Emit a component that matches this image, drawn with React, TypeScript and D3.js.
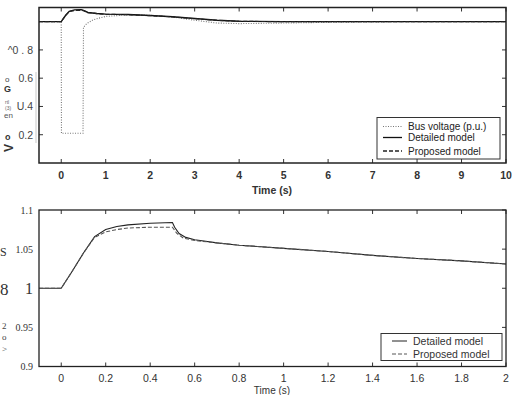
import { scaleLinear, line } from 'd3';

// Top panel: bus voltage and terminal voltage, 0-10 s
const topTicksX = [0, 1, 2, 3, 4, 5, 6, 7, 8, 9, 10];
const topTicksY = [0.2, 0.4, 0.6, 0.8];
const topTickLabelsY = ['0.2', 'U.4', '0.6', '^0 . 8'];
const busVoltage: [number, number][] = [
    [-0.5, 1], [0, 1], [0.005, 0.21], [0.49, 0.21], [0.5, 0.96], [0.57, 0.985],
    [0.7, 1.01], [0.8, 1.021], [1, 1.037], [1.5, 1.048], [2, 1.045], [2.5, 1.033],
    [3, 1.01], [3.5, 0.99], [4, 0.986], [5, 0.99], [6, 0.995], [7, 0.998], [8, 1.0], [10, 1.0],
];
const topDetailed: [number, number][] = [
    [-0.5, 1], [0, 1], [0.1, 1.045], [0.18, 1.073], [0.3, 1.083], [0.45, 1.085],
    [0.5, 1.08], [0.6, 1.065], [0.8, 1.058], [1, 1.053], [1.5, 1.05], [2, 1.043],
    [2.5, 1.035], [3, 1.022], [3.5, 1.01], [4, 1.003], [5, 1.0], [10, 1.0],
];
const topProposed: [number, number][] = [
    [-0.5, 1], [0, 1], [0.1, 1.044], [0.18, 1.071], [0.3, 1.079], [0.45, 1.08],
    [0.5, 1.078], [0.6, 1.064], [0.8, 1.057], [1, 1.052], [1.5, 1.049], [2, 1.042],
    [2.5, 1.034], [3, 1.021], [3.5, 1.009], [4, 1.002], [5, 1.0], [10, 1.0],
];

// Bottom panel: zoom on 0-2 s
const bottomTicksX = [0, 0.2, 0.4, 0.6, 0.8, 1, 1.2, 1.4, 1.6, 1.8, 2];
const bottomTicksY = [0.9, 0.95, 1, 1.05, 1.1];
const bottomTickLabelsY = ['0.9', '0.95', '1', '1.05', '1.1'];
const bottomDetailed: [number, number][] = [
    [-0.1, 1], [0, 1], [0.05, 1.022], [0.1, 1.045], [0.15, 1.066], [0.2, 1.075],
    [0.25, 1.079], [0.3, 1.081], [0.4, 1.083], [0.5, 1.084], [0.51, 1.078],
    [0.53, 1.07], [0.56, 1.065], [0.6, 1.062], [0.7, 1.058], [0.8, 1.055],
    [1, 1.051], [1.2, 1.047], [1.4, 1.042], [1.6, 1.038], [1.8, 1.035], [2, 1.031],
];
const bottomProposed: [number, number][] = [
    [-0.1, 1], [0, 1], [0.05, 1.022], [0.1, 1.045], [0.15, 1.065], [0.2, 1.072],
    [0.25, 1.075], [0.3, 1.077], [0.4, 1.078], [0.5, 1.078], [0.52, 1.07],
    [0.55, 1.064], [0.6, 1.061], [0.7, 1.058], [0.8, 1.055], [1, 1.051],
    [1.2, 1.047], [1.4, 1.042], [1.6, 1.038], [1.8, 1.035], [2, 1.031],
];

const sans = 'Liberation Sans, Arial, sans-serif';
const serif = 'Liberation Serif, Times New Roman, serif';

function App() {
    // Set dimensions
    const left = 39;
    const right = 506;
    const topBox = { y0: 7.5, y1: 163 };
    const botBox = { y0: 210, y1: 366.5 };

    // Set scales
    const xTop = scaleLinear().domain([-0.5, 10]).range([left, right]);
    const yTop = scaleLinear().domain([0, 1.1]).range([topBox.y1, topBox.y0]);
    const xBot = scaleLinear().domain([-0.1, 2]).range([left, right]);
    const yBot = scaleLinear().domain([0.9, 1.1]).range([botBox.y1, botBox.y0]);

    const topLine = line<[number, number]>().x((d) => xTop(d[0])).y((d) => yTop(d[1]));
    const botLine = line<[number, number]>().x((d) => xBot(d[0])).y((d) => yBot(d[1]));

    const tick = 4;

    return (
        <svg width={513} height={395} style={{ position: 'absolute', left: 0, top: 0, background: '#fff' }}>
            {/* ---------- Top panel ---------- */}
            <g>
                {topTicksX.map((t) => (
                    <g key={'tx' + t}>
                        <line x1={xTop(t)} x2={xTop(t)} y1={topBox.y0} y2={topBox.y0 + tick} stroke="#333" />
                        <line x1={xTop(t)} x2={xTop(t)} y1={topBox.y1} y2={topBox.y1 - tick} stroke="#333" />
                        <text x={xTop(t)} y={179} textAnchor="middle" fontFamily={sans} fontSize={10.5} fontWeight="bold" fill="#333">{t}</text>
                    </g>
                ))}
                {topTicksY.map((v, i) => (
                    <g key={'ty' + v}>
                        <line x1={left} x2={left + tick} y1={yTop(v)} y2={yTop(v)} stroke="#333" />
                        <line x1={right} x2={right - tick} y1={yTop(v)} y2={yTop(v)} stroke="#333" />
                        <text x={33} y={yTop(v) + 4} textAnchor="end" fontFamily={sans} fontSize={10.5} fill="#444">{topTickLabelsY[i]}</text>
                    </g>
                ))}
                <path d={topLine(busVoltage) || ''} fill="none" stroke="#777" strokeWidth={1.1} strokeDasharray="1 1.5" />
                <path d={topLine(topDetailed) || ''} fill="none" stroke="#111" strokeWidth={1.4} />
                <path d={topLine(topProposed) || ''} fill="none" stroke="#222" strokeWidth={1.2} strokeDasharray="4 2" />
                <rect x={left} y={topBox.y0} width={right - left} height={topBox.y1 - topBox.y0} fill="none" stroke="#222" strokeWidth={1.5} />
                <text x={272} y={194} textAnchor="middle" fontFamily={sans} fontSize={10.5} fontWeight="bold" fill="#333">Time (s)</text>

                {/* Garbled y label of the scan */}
                <line x1={36} x2={36} y1={72} y2={143} stroke="#bbb" strokeWidth={0.8} />
                <text x={5} y={82} fontFamily={sans} fontSize={8} fill="#444">o</text>
                <text x={4} y={92} fontFamily={sans} fontSize={9} fontWeight="bold" fill="#333">G</text>
                <text x={5} y={104} fontFamily={sans} fontSize={5} fill="#666">rtl</text>
                <text x={5} y={110} fontFamily={sans} fontSize={5} fill="#666">(3)</text>
                <text x={4} y={118} fontFamily={sans} fontSize={8} fill="#555">en</text>
                <text x={5} y={140} fontFamily={sans} fontSize={9} fontWeight="bold" fill="#333">o</text>
                <text x={9} y={148} fontFamily={sans} fontSize={12} fontWeight="bold" fill="#333" transform="rotate(-90 9 148)" textAnchor="middle" dy={4}>V</text>

                {/* Legend */}
                <rect x={377} y={117.5} width={123} height={41.5} fill="#fff" stroke="#333" strokeWidth={1} />
                <line x1={383} x2={402} y1={126.5} y2={126.5} stroke="#777" strokeWidth={1.1} strokeDasharray="1 1.5" />
                <line x1={383} x2={402} y1={137.5} y2={137.5} stroke="#111" strokeWidth={1.3} />
                <line x1={383} x2={402} y1={151} y2={151} stroke="#222" strokeWidth={1.3} strokeDasharray="4 2" />
                <text x={408} y={129.5} fontFamily={sans} fontSize={10} fill="#222">Bus voltage (p.u.)</text>
                <text x={408} y={141} fontFamily={sans} fontSize={10} fill="#222">Detailed model</text>
                <text x={408} y={154.5} fontFamily={sans} fontSize={10} fill="#222">Proposed model</text>
            </g>

            {/* ---------- Bottom panel ---------- */}
            <g>
                {bottomTicksX.map((t) => (
                    <g key={'bx' + t}>
                        <line x1={xBot(t)} x2={xBot(t)} y1={botBox.y0} y2={botBox.y0 + tick} stroke="#333" />
                        <line x1={xBot(t)} x2={xBot(t)} y1={botBox.y1} y2={botBox.y1 - tick} stroke="#333" />
                        <text x={xBot(t)} y={382} textAnchor="middle" fontFamily={sans} fontSize={10.5} fill="#333">{t}</text>
                    </g>
                ))}
                {bottomTicksY.map((v, i) => (
                    <g key={'by' + v}>
                        <line x1={right} x2={right - tick} y1={yBot(v)} y2={yBot(v)} stroke="#333" />
                        <text
                            x={33}
                            y={yBot(v) + (v === 1 ? 5.5 : 3.5)}
                            textAnchor="end"
                            fontFamily={serif}
                            fontSize={v === 1 ? 16 : 10}
                            fill="#333"
                        >
                            {bottomTickLabelsY[i]}
                        </text>
                    </g>
                ))}
                <path d={botLine(bottomDetailed) || ''} fill="none" stroke="#222" strokeWidth={1.1} />
                <path d={botLine(bottomProposed) || ''} fill="none" stroke="#555" strokeWidth={1.1} strokeDasharray="4 2" />
                <rect x={left} y={botBox.y0} width={right - left} height={botBox.y1 - botBox.y0} fill="none" stroke="#222" strokeWidth={1.3} />
                <text x={272} y={394} textAnchor="middle" fontFamily={sans} fontSize={10} fill="#333">Time (s)</text>

                {/* Garbled y label of the scan */}
                <text x={0} y={256} fontFamily={serif} fontSize={12} fill="#333">S</text>
                <text x={0} y={295} fontFamily={serif} fontSize={17} fill="#333">8</text>
                <text x={2} y={329} fontFamily={serif} fontSize={9} fill="#444">2</text>
                <text x={2} y={340} fontFamily={serif} fontSize={9} fill="#444">o</text>
                <text x={2} y={352} fontFamily={serif} fontSize={9} fill="#444">&gt;</text>

                {/* Legend */}
                <rect x={381} y={333.5} width={121} height={27} fill="#fff" stroke="#333" strokeWidth={1} />
                <line x1={392} x2={407} y1={341} y2={341} stroke="#222" strokeWidth={1} />
                <line x1={392} x2={407} y1={354} y2={354} stroke="#555" strokeWidth={1} strokeDasharray="4 2" />
                <text x={413} y={344.5} fontFamily={sans} fontSize={10.5} fill="#333">Detailed model</text>
                <text x={413} y={357.5} fontFamily={sans} fontSize={10.5} fill="#333">Proposed model</text>
            </g>
        </svg>
    );
}

export default App;
